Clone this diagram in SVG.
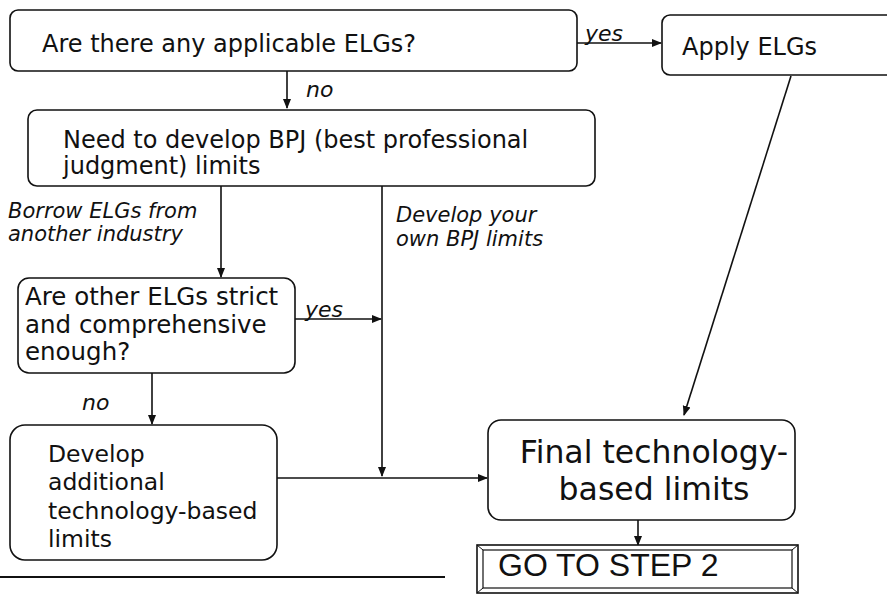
<svg xmlns="http://www.w3.org/2000/svg" width="887" height="595" viewBox="0 0 887 595">
<style>
.box{fill:#fff;stroke:#111;stroke-width:1.6}
.t{font-family:"DejaVu Sans",Verdana,sans-serif;fill:#111}
.it{font-family:"DejaVu Sans",Verdana,sans-serif;font-style:italic;fill:#111}
.c{stroke:#111;stroke-width:1.6;fill:none}
</style>
<defs>
<marker id="ah" markerWidth="10" markerHeight="10" refX="9" refY="5" orient="auto" markerUnits="userSpaceOnUse">
<path d="M0,1 L10,5 L0,9 Z" fill="#111"/>
</marker>
</defs>
<rect width="887" height="595" fill="#fff"/>

<g id="connectors">
<line class="c" x1="577" y1="43" x2="661" y2="43" marker-end="url(#ah)"/>
<line class="c" x1="287" y1="71" x2="287" y2="108" marker-end="url(#ah)"/>
<line class="c" x1="221" y1="186" x2="221" y2="277" marker-end="url(#ah)"/>
<line class="c" x1="382" y1="186" x2="382" y2="476" marker-end="url(#ah)"/>
<line class="c" x1="295" y1="319" x2="381" y2="319" marker-end="url(#ah)"/>
<line class="c" x1="152" y1="373" x2="152" y2="424" marker-end="url(#ah)"/>
<line class="c" x1="277" y1="478" x2="487" y2="478" marker-end="url(#ah)"/>
<line class="c" x1="791" y1="76" x2="684" y2="415" marker-end="url(#ah)"/>
<line class="c" x1="638" y1="520" x2="638" y2="545" marker-end="url(#ah)"/>
<text class="it" x="585" y="41" font-size="22">yes</text>
<text class="it" x="306" y="97" font-size="22">no</text>
<text class="it" x="305" y="317" font-size="22">yes</text>
<text class="it" x="82" y="410" font-size="22">no</text>
<text class="it" x="8" y="218" font-size="21">Borrow ELGs from</text>
<text class="it" x="8" y="241" font-size="21">another industry</text>
<text class="it" x="396" y="222" font-size="21">Develop your</text>
<text class="it" x="396" y="246" font-size="21">own BPJ limits</text>
</g>

<g id="q1">
<rect class="box" x="10" y="10" width="567" height="61" rx="8"/>
<text class="t" x="42" y="52" font-size="24">Are there any applicable ELGs?</text>
</g>

<g id="apply">
<rect class="box" x="662" y="15" width="240" height="60" rx="8"/>
<text class="t" x="682" y="55" font-size="24">Apply ELGs</text>
</g>

<g id="bpj">
<rect class="box" x="28" y="110" width="567" height="76" rx="9"/>
<text class="t" x="63" y="148" font-size="24">Need to develop BPJ (best professional</text>
<text class="t" x="63" y="174" font-size="24">judgment) limits</text>
</g>

<g id="q2">
<rect class="box" x="18" y="278" width="277" height="95" rx="11"/>
<text class="t" x="25" y="305" font-size="24.5">Are other ELGs strict</text>
<text class="t" x="25" y="333" font-size="24.5">and comprehensive</text>
<text class="t" x="25" y="360" font-size="24.5">enough?</text>
</g>

<g id="additional">
<rect class="box" x="10" y="425" width="267" height="135" rx="15"/>
<text class="t" x="48" y="462" font-size="23.5">Develop</text>
<text class="t" x="48" y="490" font-size="23.5">additional</text>
<text class="t" x="48" y="519" font-size="23.5">technology-based</text>
<text class="t" x="48" y="547" font-size="23.5">limits</text>
</g>

<g id="final">
<rect class="box" x="488" y="420" width="307" height="100" rx="13"/>
<text class="t" x="654" y="463" font-size="31.5" text-anchor="middle">Final technology-</text>
<text class="t" x="654" y="500" font-size="31.5" text-anchor="middle">based limits</text>
</g>

<g id="step2">
<rect x="477" y="545" width="321" height="48" fill="#fff" stroke="#111" stroke-width="1.6"/>
<rect x="483" y="550" width="309" height="38" fill="none" stroke="#111" stroke-width="1.2"/>
<path d="M477,545 L483,550 M798,545 L792,550 M477,593 L483,588 M798,593 L792,588" stroke="#111" stroke-width="1"/>
<text x="498" y="576" font-family="Liberation Sans, Arial, sans-serif" font-size="32" fill="#111">GO TO STEP 2</text>
</g>

<line x1="0" y1="577" x2="445" y2="577" stroke="#111" stroke-width="2"/>
</svg>
